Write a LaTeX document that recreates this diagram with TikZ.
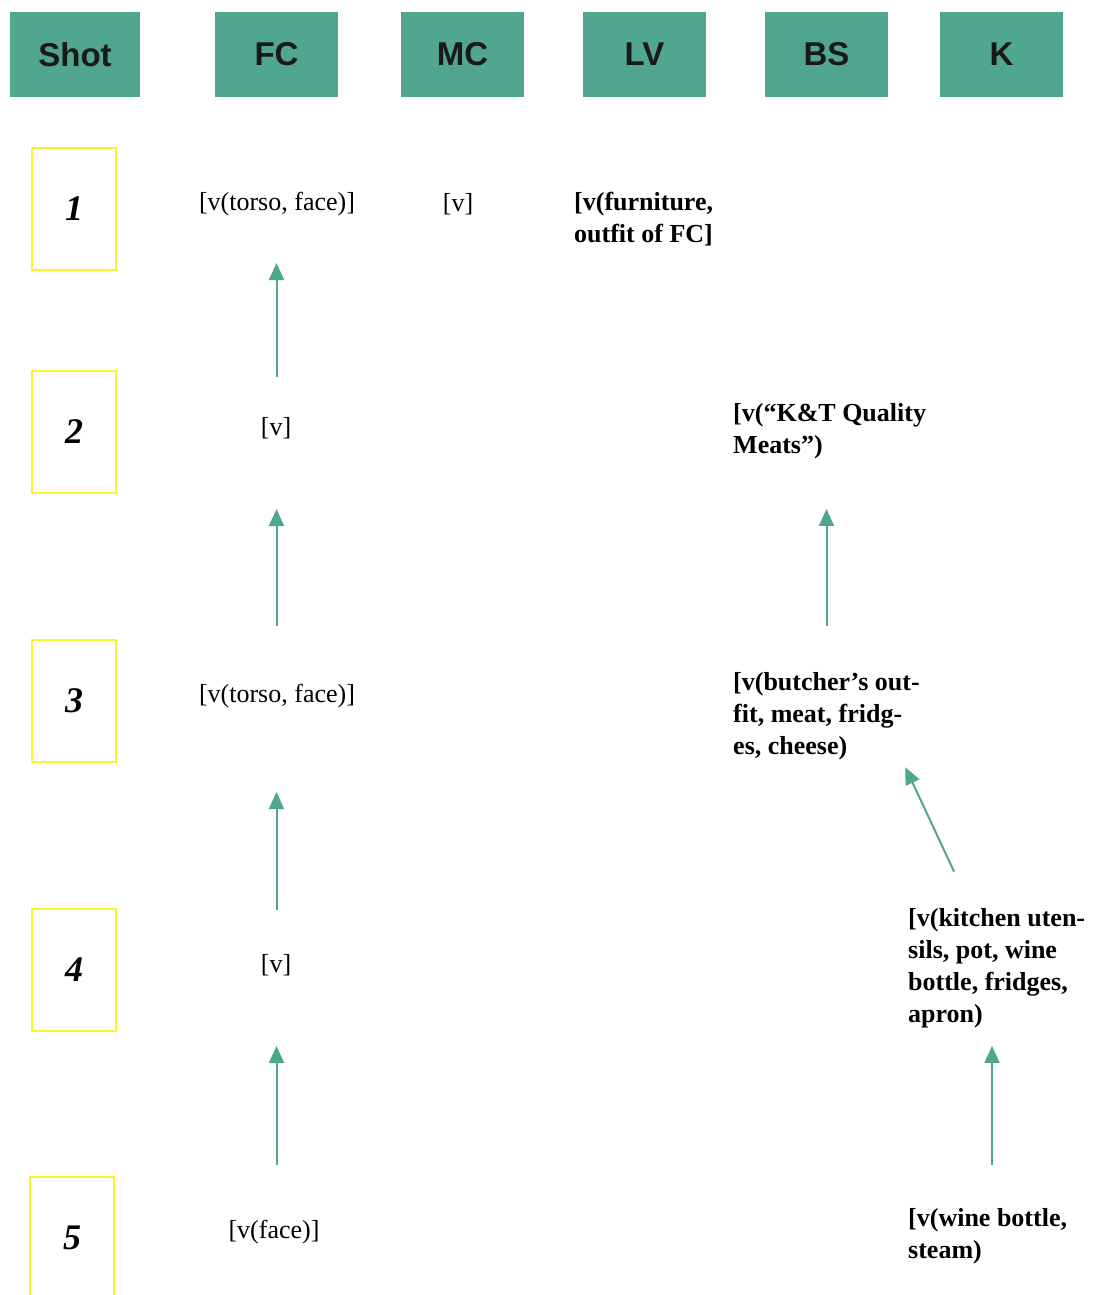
\documentclass[tikz,border=0pt]{standalone}
\usepackage{fontspec}
\setmainfont{Liberation Serif}
\setsansfont{Liberation Sans}
\usetikzlibrary{arrows.meta,positioning,calc}
\definecolor{hdrteal}{RGB}{80,166,142}
\definecolor{shotyellow}{RGB}{250,245,40}

\begin{document}
\begin{tikzpicture}[x=1pt, y=-1pt,
        header/.style={fill=hdrteal, minimum width=123pt, minimum height=85pt, text=black!90,
            font=\sffamily\bfseries\fontsize{33}{33}\selectfont},
        shotbox/.style={draw=shotyellow, line width=2pt, minimum width=84pt, minimum height=122pt,
            font=\bfseries\itshape\fontsize{36}{36}\selectfont},
        entry/.style={inner sep=0pt, font=\fontsize{26}{32}\selectfont},
        note/.style={inner sep=0pt, align=left, anchor=north west, font=\bfseries\fontsize{26}{32}\selectfont},
        flow/.style={draw=hdrteal, line width=2pt, -{Triangle[width=15pt,length=17pt]}}
    ]
        \useasboundingbox (0,0) rectangle (1094,1295);

        % column headers
        \node [header, minimum width=130pt] (shot) at (75,54.5) {Shot};
        \node [header] (fc) at (276.5,54.5) {FC};
        \node [header] (mc) at (462.5,54.5) {MC};
        \node [header] (lv) at (644.5,54.5) {LV};
        \node [header] (bs) at (826.5,54.5) {BS};
        \node [header] (k) at (1001.5,54.5) {K};

        % shot numbers
        \node [shotbox] (s1) at (74,208.5) {1};
        \node [shotbox] (s2) at (74,432) {2};
        \node [shotbox] (s3) at (74,700.5) {3};
        \node [shotbox] (s4) at (74,969.5) {4};
        \node [shotbox] (s5) at (72,1238) {5};

        % FC and MC entries
        \node [entry] (fc1) at (277,204) {[v(torso, face)]};
        \node [entry] (mc1) at (458,204) {[v]};
        \node [entry] (fc2) at (276,428) {[v]};
        \node [entry] (fc3) at (277,696) {[v(torso, face)]};
        \node [entry] (fc4) at (276,965) {[v]};
        \node [entry] (fc5) at (274,1232) {[v(face)]};

        % LV, BS and K entries
        \node [note] (lv1) at (574,192) {[v(furniture,\\outfit of FC]};
        \node [note] (bs2) at (733,403) {[v(“K\&T Quality\\Meats”)};
        \node [note] (bs3) at (733,672) {[v(butcher’s out-\\fit, meat, fridg-\\es, cheese)};
        \node [note] (k4) at (908,908) {[v(kitchen uten-\\sils, pot, wine\\bottle, fridges,\\apron)};
        \node [note] (k5) at (908,1208) {[v(wine bottle,\\steam)};

        % links between shots
        \draw [flow, shorten <=51pt, shorten >=59pt] (fc2 -| fc) -- (fc1 -| fc);
        \draw [flow, shorten <=70pt, shorten >=81pt] (fc3 -| fc) -- (fc2 -| fc);
        \draw [flow, shorten <=55pt, shorten >=96pt] (fc4 -| fc) -- (fc3 -| fc);
        \draw [flow, shorten <=67pt, shorten >=81pt] (fc5 -| fc) -- (fc4 -| fc);
        \draw [flow, shorten <=46pt, shorten >=50pt] (bs3.north -| bs) -- (bs2.south -| bs);
        \draw [flow, shorten <=40pt, shorten >=8pt] ([xshift=63pt]k4.north west) -- ([xshift=169pt]bs3.south west);
        \draw [flow, shorten <=43pt, shorten >=18pt] ([xshift=84pt]k5.north west) -- ([xshift=84pt]k4.south west);
    \end{tikzpicture}
\end{document}
